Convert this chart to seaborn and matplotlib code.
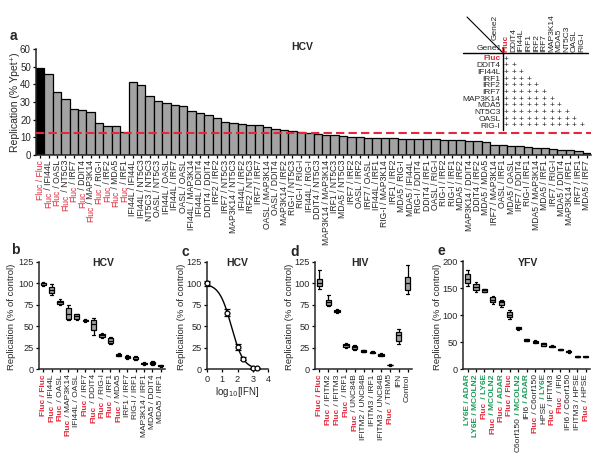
import numpy as np
import pandas as pd
import matplotlib
matplotlib.use("Agg")
import matplotlib.pyplot as plt
import seaborn as sns

# ---- data -------------------------------------------------------------
# panel a: HCV screen, % Ypet+ per gene pair
a_labels = [
    "Fluc / Fluc", "Fluc / IFI44L", "Fluc / OASL", "Fluc / NT5C3", "Fluc / IRF7",
    "Fluc / DDIT4", "Fluc / MAP3K14", "Fluc / RIG-I", "Fluc / IRF2", "Fluc / MDA5",
    "Fluc / IRF1", "IFI44L / IFI44L", "IFI44L / NT5C3", "NT5C3 / NT5C3", "OASL / NT5C3",
    "IFI44L / OASL", "IFI44L / IRF7", "OASL / OASL", "IFI44L / MAP3K14", "IFI44L / DDIT4",
    "DDIT4 / DDIT4", "IRF2 / IRF2", "IRF7 / NT5C3", "MAP3K14 / NT5C3", "IFI44L / IRF2",
    "IRF2 / NT5C3", "IRF7 / IRF7", "OASL / MAP3K14", "OASL / DDIT4", "MAP3K14 / IRF2",
    "RIG-I / NT5C3", "RIG-I / RIG-I", "IFI44L / RIG-I", "DDIT4 / NT5C3", "MAP3K14 / MAP3K14",
    "IRF1 / NT5C3", "MDA5 / NT5C3", "IRF7 / IRF2", "OASL / IRF2", "IRF7 / OASL",
    "IFI44L / IRF1", "RIG-I / MAP3K14", "IRF1 / IRF2", "MDA5 / RIG-I", "MDA5 / IFI44L",
    "RIG-I / DDIT4", "DDIT4 / IRF1", "OASL / RIG-I", "RIG-I / IRF2", "RIG-I / IRF1",
    "MDA5 / IRF2", "MAP3K14 / DDIT4", "DDIT4 / IRF2", "MDA5 / MDA5", "IRF7 / MAP3K14",
    "OASL / IRF1", "MDA5 / OASL", "IRF7 / DDIT4", "RIG-I / IRF1", "MDA5 / MAP3K14",
    "MDA5 / IRF1", "IRF7 / RIG-I", "MDA5 / DDIT4", "MAP3K14 / IRF1", "IRF7 / IRF1",
    "MDA5 / IRF7",
]
a_values = [
    49.0, 45.7, 35.5, 31.6, 25.8, 25.6, 24.1, 17.9, 16.4, 16.4,
    12.8, 41.4, 39.4, 33.2, 30.8, 29.2, 28.3, 27.9, 24.9, 23.6,
    22.8, 20.8, 18.5, 17.9, 17.7, 17.2, 16.8, 15.7, 14.5, 14.2,
    13.6, 13.0, 12.6, 12.0, 11.6, 11.2, 10.8, 10.4, 10.0, 9.8,
    9.6, 9.5, 9.4, 9.3, 9.1, 9.0, 8.9, 8.8, 8.6, 8.5,
    8.4, 8.2, 7.8, 7.5, 5.6, 5.4, 5.2, 4.9, 4.4, 4.2,
    4.0, 3.6, 3.0, 2.6, 2.0, 1.4,
]
a_cutoff = 12.7
table_genes = ["Fluc", "DDIT4", "IFI44L", "IRF1", "IRF2", "IRF7",
               "MAP3K14", "MDA5", "NT5C3", "OASL", "RIG-I"]

# panel b: HCV validation (replicates)
b_labels = [
    "Fluc / Fluc", "Fluc / IFI44L", "Fluc / OASL", "Fluc / MAP3K14", "IFI44L / OASL",
    "Fluc / IRF7", "Fluc / DDIT4", "Fluc / RIG-I", "Fluc / IRF1", "Fluc / MDA5",
    "IRF1 / IRF7", "RIG-I / IRF1", "MAP3K14 / IRF1", "MDA5 / DDIT4", "MDA5 / IRF1",
]
b_reps = [
    [97, 98, 100, 101, 102], [87, 89, 92, 96, 99], [75, 76, 78, 80, 82],
    [57, 59, 65, 71, 75], [58, 59, 62, 64, 65], [55, 56, 57, 58, 59],
    [40, 46, 53, 58, 60], [37, 38, 40, 41, 42], [29, 31, 33, 36, 38],
    [15, 16, 17, 18, 19], [12, 13, 14, 16, 17], [11, 12, 12.5, 14, 15],
    [5.5, 6, 7, 7.5, 8], [5, 6, 7.5, 8.5, 10], [3, 3.5, 4, 4.5, 5],
]

# panel c: IFN dose response
c_log_ifn = [0, 1.34, 2.0, 2.35, 3.03, 3.29]
c_repl = [100, 66, 26, 12.5, 1, 1]
c_err = [3, 4, 4, 2, 1, 1]
c_ic50_log = 1.6
c_hill = 1.11

# panel d: HIV
d_labels = [
    "Fluc / Fluc", "Fluc / IFITM2", "Fluc / IFITM3", "Fluc / IRF1", "Fluc / UNC84B",
    "IFITM2 / UNC84B", "IFITM3 / IRF1", "IFITM3 / UNC84B", "Fluc / TRIM5", "IFN", "Control",
]
d_reps = [
    [93, 97, 100, 105, 116], [74, 75, 78, 81, 86], [66, 67, 68, 69.5, 70],
    [25, 26, 28, 30, 31], [23, 24, 26, 27, 28], [20, 20.5, 21.5, 22, 22.5],
    [19, 19.5, 20, 20.5, 21], [15, 16, 17, 18, 19], [4, 4.5, 5, 5.5, 6],
    [30, 33, 40, 44, 47], [88, 92, 100, 108, 122],
]

# panel e: YFV
e_labels = [
    "LY6E / ADAR", "LY6E / MCOLN2", "Fluc / LY6E", "Fluc / MCOLN2", "Fluc / ADAR",
    "Fluc / Fluc", "C6orf150 / MCOLN2", "IFI6 / ADAR", "Fluc / C6orf150", "HPSE / LY6E",
    "Fluc / IFITM3", "Fluc / IFI6", "IFI6 / C6orf150", "IFITM3 / HPSE", "Fluc / HPSE",
]
e_reps = [
    [155, 160, 168, 176, 184], [143, 147, 153, 158, 162], [143, 144, 146, 148, 149],
    [121, 124, 128, 133, 136], [116, 119, 124, 126, 128], [93, 96, 101, 106, 110],
    [72, 74, 76, 78, 79], [52, 53, 55, 56, 57], [48, 49, 51, 53, 54],
    [43, 44, 46, 48, 49], [41, 42, 43, 44, 45], [35, 35.5, 36, 37, 38],
    [31, 32, 33, 34.5, 35], [22, 22.5, 23, 24, 24.5], [22, 22.5, 23, 24, 24.5],
]

# ---- style ------------------------------------------------------------
sns.set_style("ticks")
plt.rcParams["font.family"] = ["Liberation Sans", "DejaVu Sans"]
plt.rcParams["axes.linewidth"] = 1.1
plt.rcParams["xtick.major.size"] = 2.5
plt.rcParams["ytick.major.size"] = 2.5
plt.rcParams["xtick.major.width"] = 0.9
plt.rcParams["ytick.major.width"] = 0.9
plt.rcParams["xtick.major.pad"] = 1.5
plt.rcParams["ytick.major.pad"] = 1.2

RED = "#e2283a"
GREEN = "#1b9c58"
DARK = "#262626"
GREY = "#a3a3a3"
GREEN_GENES = ["LY6E", "ADAR", "MCOLN2"]

W, H = 600, 463
fig = plt.figure(figsize=(W / 100, H / 100), dpi=100)


def px_axes(left, top, right, bottom):
    return fig.add_axes([left / W, 1 - bottom / H, (right - left) / W, (bottom - top) / H])


def gene_color(g):
    if g == "Fluc":
        return RED
    if g in GREEN_GENES:
        return GREEN
    return DARK


def split_label(lab):
    if " / " not in lab:
        return [(lab, DARK)]
    g1, g2 = lab.split(" / ")
    c1, c2 = gene_color(g1), gene_color(g2)
    if c1 == c2:
        return [(lab, c1)]
    return [(g1, c1), (" / " + g2, c2)]


def seg_ticklabels(ax, labels, fs, bold):
    ax.tick_params(axis="x", labelbottom=False)
    for i, lab in enumerate(labels):
        prev = None
        for text, color in reversed(split_label(lab)):
            weight = "bold" if (bold and color != DARK) else "normal"
            kw = dict(rotation=90, ha="center", va="top", color=color,
                      fontsize=fs, fontweight=weight)
            if prev is None:
                prev = ax.annotate(text, xy=(i, 0), xycoords=ax.get_xaxis_transform(),
                                   xytext=(0, -3.5), textcoords="offset points", **kw)
            else:
                prev = ax.annotate(text, xy=(0.5, 0), xycoords=prev, **kw)


def style_axes(ax):
    sns.despine(ax=ax)
    ax.tick_params(labelsize=6.6, colors="black", labelcolor=DARK)
    ax.set_xlabel("")
    ax.set_ylabel("")


def box_panel(ax, labels, reps, ymax, ystep):
    df = pd.DataFrame([(lab, v) for lab, vals in zip(labels, reps) for v in vals],
                      columns=["pair", "repl"])
    sns.boxplot(data=df, x="pair", y="repl", order=labels, ax=ax, color=GREY,
                linecolor="black", linewidth=0.9, width=0.6, fliersize=0)
    ax.set_xlim(-0.5, len(labels) - 0.5)
    ax.set_ylim(0, ymax)
    ax.set_yticks(np.arange(0, ymax + 1, ystep))
    style_axes(ax)
    seg_ticklabels(ax, labels, 6, True)


# ---- panel a ----------------------------------------------------------
ax_a = px_axes(36, 49, 591, 155)
pos = np.arange(len(a_values))
sns.barplot(x=pos, y=a_values, hue=pos, palette=["black"] + [GREY] * (len(pos) - 1),
            legend=False, width=1.0, edgecolor="black", linewidth=0.9, ax=ax_a)
ax_a.axhline(a_cutoff, color=RED, ls=(0, (4, 2)), lw=1.5, zorder=5, clip_on=False)
ax_a.set_xlim(-0.5, len(pos) - 0.5)
ax_a.set_ylim(0, 60)
ax_a.set_yticks(range(0, 61, 10))
style_axes(ax_a)
ax_a.tick_params(axis="y", labelsize=7)
seg_ticklabels(ax_a, a_labels, 6.2, False)

# ---- panel b ----------------------------------------------------------
ax_b = px_axes(39, 262, 165, 369.3)
box_panel(ax_b, b_labels, b_reps, 125, 25)

# ---- panel c ----------------------------------------------------------
ax_c = px_axes(206.7, 262, 268.3, 369.3)
xc = np.linspace(0, 3.3, 200)
yc = 100 / (1 + 10 ** ((xc - c_ic50_log) * c_hill))
sns.lineplot(x=xc, y=yc, color="black", lw=1, ax=ax_c)
ax_c.errorbar(c_log_ifn, c_repl, yerr=c_err, fmt="o", ms=3.5, mfc="white",
              mec="black", mew=0.9, ecolor="black", elinewidth=0.9, capsize=2,
              zorder=5, clip_on=False)
ax_c.set_xlim(0, 4)
ax_c.set_ylim(0, 125)
ax_c.set_xticks(range(5))
ax_c.set_yticks(range(0, 126, 25))
style_axes(ax_c)
ax_c.set_xlabel("log$_{10}$[IFN]", fontsize=7, labelpad=1, color=DARK)

# ---- panel d ----------------------------------------------------------
ax_d = px_axes(315, 262, 412, 369.3)
box_panel(ax_d, d_labels, d_reps, 125, 25)

# ---- panel e ----------------------------------------------------------
ax_e = px_axes(463.3, 261.3, 590, 369.3)
box_panel(ax_e, e_labels, e_reps, 200, 50)

# ---- overlay: letters, titles, y labels, gene table -------------------
ov = fig.add_axes([0, 0, 1, 1])
ov.set_xlim(0, W)
ov.set_ylim(H, 0)
ov.axis("off")
ov.patch.set_alpha(0)

for letter, x, y in [("a", 13, 36), ("b", 15, 250), ("c", 185, 252), ("d", 295, 252), ("e", 441, 251)]:
    ov.text(x, y, letter, fontsize=10, fontweight="bold", ha="center", va="center")

for title, x, y in [("HCV", 302, 47), ("HCV", 103, 263), ("HCV", 237, 263),
                    ("HIV", 360, 263), ("YFV", 528, 263)]:
    ov.text(x, y, title, fontsize=7.5, fontweight="bold", ha="center", va="center")

ov.text(15, 102, "Replication (% Ypet\u207a)", rotation=90, fontsize=7.5,
        ha="center", va="center", color=DARK)
for x in [12, 182, 290, 438]:
    ov.text(x, 317, "Replication (% of control)", rotation=90, fontsize=6.8,
            ha="center", va="center", color=DARK)

# gene-pair table
col_x0, col_dx = 506, 7.6
row_y0, row_dy = 59, 6.7
ov.plot([467, 503], [17, 53], color="black", lw=0.8)
ov.plot([463, 588], [53, 53], color="black", lw=1.0)
ov.plot([503, 503], [47, 130], color="black", lw=1.0)
ov.text(495, 27, "Gene2", rotation=90, fontsize=6, ha="center", va="center", color=DARK)
ov.text(489, 48, "Gene1", fontsize=6, ha="center", va="center", color=DARK)
for j, g in enumerate(table_genes):
    c = gene_color(g)
    ov.text(col_x0 + j * col_dx, 51.5, g, rotation=90, fontsize=6, ha="center", va="bottom",
            color=c, fontweight="bold" if c == RED else "normal")
for i, g in enumerate(table_genes):
    c = gene_color(g)
    ov.text(500.5, row_y0 + i * row_dy, g, fontsize=6, ha="right", va="center",
            color=c, fontweight="bold" if c == RED else "normal")
    for j in range(i + 1):
        ov.text(col_x0 + j * col_dx, row_y0 + i * row_dy, "+", fontsize=6,
                ha="center", va="center", color=DARK)

fig.savefig("out.png", dpi=100)
